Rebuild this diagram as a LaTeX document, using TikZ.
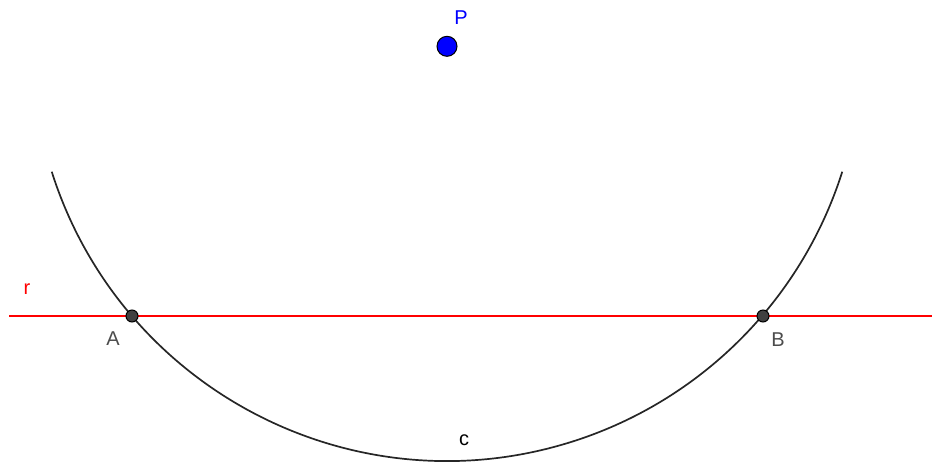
\documentclass[tikz,border=0pt]{standalone}
\usepackage{fontspec}
\setmainfont{Liberation Sans}
\begin{document}
\begin{tikzpicture}[x=1pt,y=-1pt,
  lbl/.style={font=\fontsize{20}{20}\selectfont, inner sep=0pt},
  pt/.style={circle, draw=black, line width=1pt, fill=black!75, inner sep=0pt, minimum size=12pt},
  curve/.style={draw=black!85, line width=1.7pt},
  rline/.style={draw=red, line width=1.7pt}]
\useasboundingbox (0,0) rectangle (932,464);
\coordinate (P0) at (447,46.3);
\draw[curve] (P0) ++(162.4:414.7) arc[start angle=162.4, end angle=17.6, radius=414.7];
\coordinate (L) at (9,316);
\coordinate (R) at (932,316);
\draw[rline] (L) -- (R);
\node[pt] (A) at (132,316) {};
\node[pt] (B) at (763,316) {};
\node[circle, draw=black, line width=1pt, fill=blue, inner sep=0pt, minimum size=20pt] (P) at (P0) {};
\node[lbl, text=blue] (lP) at (461,18) {P};
\node[lbl, text=red] (lr) at (27,289) {r};
\node[lbl, text=black!70] (lA) at (113,339) {A};
\node[lbl, text=black!70] (lB) at (778,340) {B};
\node[lbl, text=black] (lc) at (464,440) {c};
\end{tikzpicture}
\end{document}
